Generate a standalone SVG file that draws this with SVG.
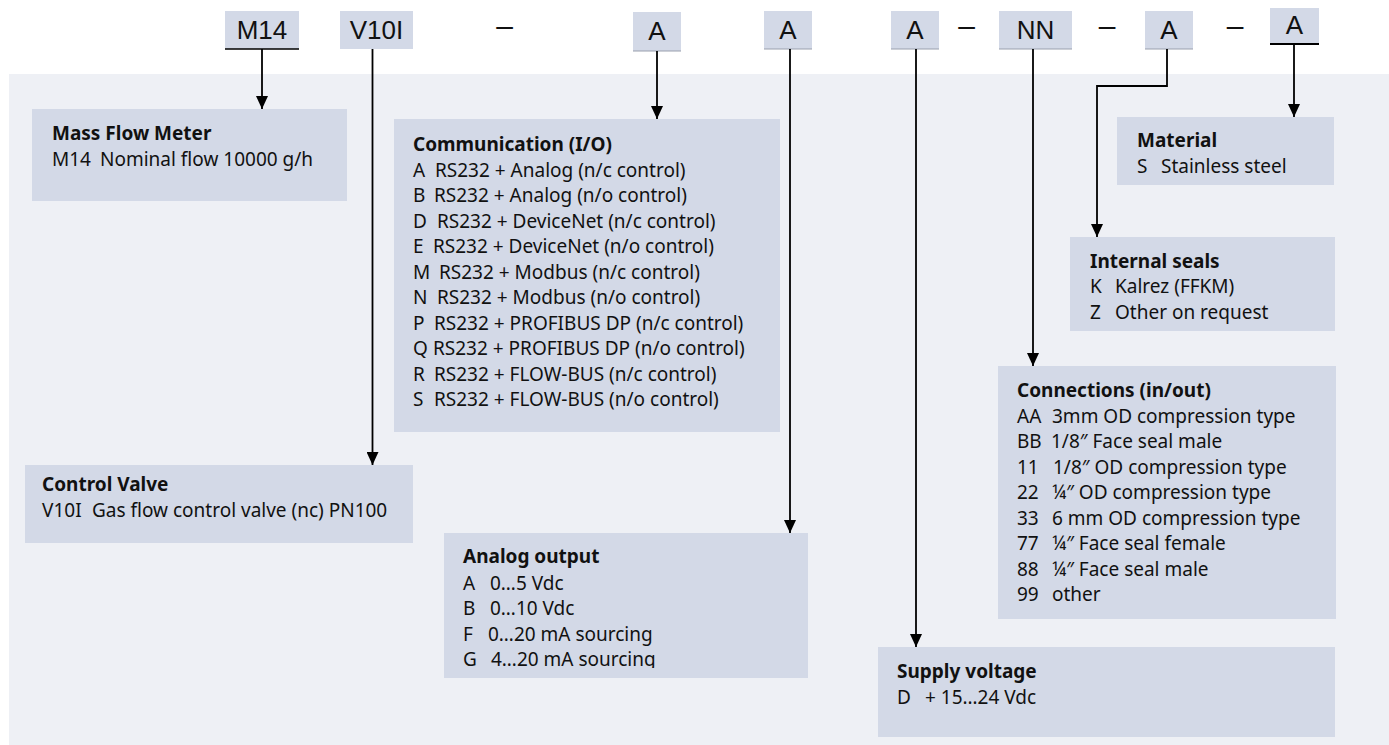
<svg xmlns="http://www.w3.org/2000/svg" width="1389" height="745" viewBox="0 0 1389 745">
<style>
.hb{fill:#d3d9e7}
.box{fill:#d3d9e7}
.hl{font-family:"Liberation Sans",Arial,sans-serif;font-size:26px;fill:#111;text-anchor:middle}
.dash{font-family:"Liberation Sans",Arial,sans-serif;font-size:30px;fill:#111;text-anchor:middle}
.t{font-family:"Noto Sans","Liberation Sans",sans-serif;font-size:19px;fill:#111}
.b{font-weight:bold}
.c{stroke:#000;stroke-width:1.8;fill:none}
.ug{stroke:#9aa0ad;stroke-width:1.2}
</style>
<defs>
<marker id="ah" markerUnits="userSpaceOnUse" markerWidth="13" markerHeight="12" refX="13" refY="6" orient="auto">
<path d="M0,0 L13,6 L0,12 Z" fill="#000"/>
</marker>
<clipPath id="clipAO"><rect x="444" y="533" width="364" height="135"/></clipPath>
</defs>
<rect x="9" y="74" width="1380" height="671" fill="#eef0f5"/>
<g id="header">
<g id="h-m14"><rect class="hb" x="225" y="11" width="74" height="38"/><line x1="225" y1="49" x2="299" y2="49" stroke="#000" stroke-width="1.5"/><text class="hl" x="262" y="39">M14</text></g>
<g id="h-v10i"><rect class="hb" x="340" y="11" width="73" height="38"/><text class="hl" x="376.5" y="39">V10I</text></g>
<text class="dash" x="504.5" y="36">–</text>
<g id="h-a1"><rect class="hb" x="633" y="12" width="48" height="39"/><line class="ug" x1="633" y1="51" x2="681" y2="51"/><text class="hl" x="657" y="40">A</text></g>
<g id="h-a2"><rect class="hb" x="764" y="11" width="48" height="38"/><line class="ug" x1="764" y1="49" x2="812" y2="49"/><text class="hl" x="788" y="39">A</text></g>
<g id="h-a3"><rect class="hb" x="891" y="11" width="48" height="38"/><line class="ug" x1="891" y1="49" x2="939" y2="49"/><text class="hl" x="915" y="39">A</text></g>
<text class="dash" x="966.5" y="36">–</text>
<g id="h-nn"><rect class="hb" x="999" y="11" width="73" height="38"/><line class="ug" x1="999" y1="49" x2="1072" y2="49"/><text class="hl" x="1035.5" y="39">NN</text></g>
<text class="dash" x="1107" y="36">–</text>
<g id="h-a4"><rect class="hb" x="1145" y="11" width="48" height="38"/><line class="ug" x1="1145" y1="49" x2="1193" y2="49"/><text class="hl" x="1169" y="39">A</text></g>
<text class="dash" x="1235" y="36">–</text>
<g id="h-a5"><rect class="hb" x="1270" y="8" width="49" height="36"/><line x1="1270" y1="44" x2="1319" y2="44" stroke="#000" stroke-width="2"/><text class="hl" x="1294.5" y="34">A</text></g>
</g>
<g id="connectors">
<path class="c" d="M262,49 V109" marker-end="url(#ah)"/>
<path class="c" d="M372.5,49 V465" marker-end="url(#ah)"/>
<path class="c" d="M657,51 V119" marker-end="url(#ah)"/>
<path class="c" d="M790,49 V533" marker-end="url(#ah)"/>
<path class="c" d="M916,49 V647" marker-end="url(#ah)"/>
<path class="c" d="M1033,49 V366" marker-end="url(#ah)"/>
<path class="c" d="M1167,49 V86 H1097 V237" marker-end="url(#ah)"/>
<path class="c" d="M1294,44 V117" marker-end="url(#ah)"/>
</g>
<g id="mass-flow-meter">
<rect class="box" x="32" y="109" width="315" height="92"/>
<text class="t b" x="52" y="139.5">Mass Flow Meter</text>
<text class="t" y="166"><tspan x="52">M14</tspan><tspan x="100">Nominal flow 10000 g/h</tspan></text>
</g>
<g id="communication">
<rect class="box" x="394" y="119" width="386" height="313"/>
<text class="t b" x="413" y="151">Communication (I/O)</text>
<text class="t" y="176.5"><tspan x="413">A</tspan><tspan x="435">RS232 + Analog (n/c control)</tspan></text>
<text class="t" y="202"><tspan x="413">B</tspan><tspan x="434">RS232 + Analog (n/o control)</tspan></text>
<text class="t" y="227.5"><tspan x="413">D</tspan><tspan x="437">RS232 + DeviceNet (n/c control)</tspan></text>
<text class="t" y="253"><tspan x="413">E</tspan><tspan x="433">RS232 + DeviceNet (n/o control)</tspan></text>
<text class="t" y="278.5"><tspan x="413">M</tspan><tspan x="439">RS232 + Modbus (n/c control)</tspan></text>
<text class="t" y="304"><tspan x="413">N</tspan><tspan x="437">RS232 + Modbus (n/o control)</tspan></text>
<text class="t" y="329.5"><tspan x="413">P</tspan><tspan x="434">RS232 + PROFIBUS DP (n/c control)</tspan></text>
<text class="t" y="355"><tspan x="413">Q</tspan><tspan x="433">RS232 + PROFIBUS DP (n/o control)</tspan></text>
<text class="t" y="380.5"><tspan x="413">R</tspan><tspan x="434">RS232 + FLOW-BUS (n/c control)</tspan></text>
<text class="t" y="406"><tspan x="413">S</tspan><tspan x="434">RS232 + FLOW-BUS (n/o control)</tspan></text>
</g>
<g id="material">
<rect class="box" x="1117" y="117" width="217" height="68"/>
<text class="t b" x="1137" y="147">Material</text>
<text class="t" y="173"><tspan x="1137">S</tspan><tspan x="1161">Stainless steel</tspan></text>
</g>
<g id="internal-seals">
<rect class="box" x="1070" y="237" width="265" height="94"/>
<text class="t b" x="1090" y="267.5">Internal seals</text>
<text class="t" y="293"><tspan x="1090">K</tspan><tspan x="1115">Kalrez (FFKM)</tspan></text>
<text class="t" y="318.5"><tspan x="1090">Z</tspan><tspan x="1115">Other on request</tspan></text>
</g>
<g id="connections">
<rect class="box" x="998" y="366" width="338" height="253"/>
<text class="t b" x="1017" y="396.5">Connections (in/out)</text>
<text class="t" y="422.5"><tspan x="1017">AA</tspan><tspan x="1052">3mm OD compression type</tspan></text>
<text class="t" y="448"><tspan x="1017">BB</tspan><tspan x="1051">1/8″ Face seal male</tspan></text>
<text class="t" y="473.5"><tspan x="1017">11</tspan><tspan x="1053">1/8″ OD compression type</tspan></text>
<text class="t" y="499"><tspan x="1017">22</tspan><tspan x="1052">¼″ OD compression type</tspan></text>
<text class="t" y="524.5"><tspan x="1017">33</tspan><tspan x="1052">6 mm OD compression type</tspan></text>
<text class="t" y="550"><tspan x="1017">77</tspan><tspan x="1052">¼″ Face seal female</tspan></text>
<text class="t" y="575.5"><tspan x="1017">88</tspan><tspan x="1052">¼″ Face seal male</tspan></text>
<text class="t" y="601"><tspan x="1017">99</tspan><tspan x="1052">other</tspan></text>
</g>
<g id="control-valve">
<rect class="box" x="25" y="465" width="388" height="78"/>
<text class="t b" x="42" y="491">Control Valve</text>
<text class="t" y="517"><tspan x="42">V10I</tspan><tspan x="92">Gas flow control valve (nc) PN100</tspan></text>
</g>
<g id="analog-output">
<rect class="box" x="444" y="533" width="364" height="145"/>
<text class="t b" x="463" y="563">Analog output</text>
<text class="t" y="589.5"><tspan x="463">A</tspan><tspan x="490">0…5 Vdc</tspan></text>
<text class="t" y="615"><tspan x="463">B</tspan><tspan x="490">0…10 Vdc</tspan></text>
<text class="t" y="640.5"><tspan x="463">F</tspan><tspan x="488">0…20 mA sourcing</tspan></text>
<text class="t" y="666" clip-path="url(#clipAO)"><tspan x="463">G</tspan><tspan x="491">4…20 mA sourcing</tspan></text>
</g>
<g id="supply-voltage">
<rect class="box" x="878" y="647" width="457" height="90"/>
<text class="t b" x="897" y="678">Supply voltage</text>
<text class="t" y="704"><tspan x="897">D</tspan><tspan x="925">+ 15…24 Vdc</tspan></text>
</g>
</svg>
